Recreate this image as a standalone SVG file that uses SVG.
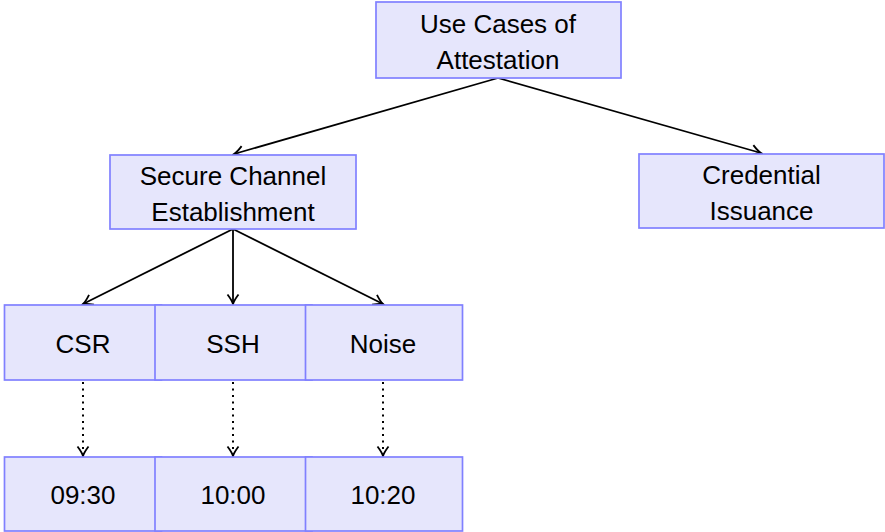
<svg xmlns="http://www.w3.org/2000/svg" width="885" height="532" viewBox="0 0 885 532">
<style>
.box{fill:#e6e6fc;stroke:#8080ff;stroke-width:1.7}
.t{font-family:"Liberation Sans",Arial,sans-serif;font-size:26px;fill:#000;text-anchor:middle}
.e{fill:none;stroke:#000;stroke-width:1.8}
.d{fill:none;stroke:#000;stroke-width:2;stroke-dasharray:2 4.5}
</style>
<defs>
<marker id="ah" viewBox="-12 -7 14 14" refX="0" refY="0" markerWidth="14" markerHeight="14" markerUnits="userSpaceOnUse" orient="auto">
<path d="M-9.5,-5.5 Q-3.5,-1 0,0 Q-3.5,1 -9.5,5.5" fill="none" stroke="#000" stroke-width="1.8"/>
</marker>
</defs>
<g id="connectors">
<path class="e" d="M498,78 L234,154" marker-end="url(#ah)"/>
<path class="e" d="M498,78 L761,153" marker-end="url(#ah)"/>
<path class="e" d="M233,229 L83,304" marker-end="url(#ah)"/>
<path class="e" d="M233,229 L233,304" marker-end="url(#ah)"/>
<path class="e" d="M233,229 L383,304" marker-end="url(#ah)"/>
<path class="d" d="M83,382 L83,456" marker-end="url(#ah)"/>
<path class="d" d="M233,382 L233,456" marker-end="url(#ah)"/>
<path class="d" d="M383,382 L383,456" marker-end="url(#ah)"/>
</g>
<g id="root"><rect class="box" x="376" y="2" width="245" height="76"/><text class="t" x="498" y="33">Use Cases of</text><text class="t" x="498" y="69">Attestation</text></g>
<g id="secure"><rect class="box" x="110" y="155" width="246" height="74"/><text class="t" x="233" y="185">Secure Channel</text><text class="t" x="233" y="221">Establishment</text></g>
<g id="credential"><rect class="box" x="639" y="154" width="245" height="74"/><text class="t" x="761.5" y="184">Credential</text><text class="t" x="761.5" y="220">Issuance</text></g>
<g id="csr"><rect class="box" x="4.5" y="305" width="157" height="75"/><text class="t" x="83" y="353">CSR</text></g>
<g id="ssh"><rect class="box" x="155" y="305" width="157" height="75"/><text class="t" x="233" y="353">SSH</text></g>
<g id="noise"><rect class="box" x="305.5" y="305" width="157" height="75"/><text class="t" x="383" y="353">Noise</text></g>
<g id="t0930"><rect class="box" x="4.5" y="457" width="157" height="74"/><text class="t" x="83" y="504">09:30</text></g>
<g id="t1000"><rect class="box" x="155" y="457" width="157" height="74"/><text class="t" x="233" y="504">10:00</text></g>
<g id="t1020"><rect class="box" x="305.5" y="457" width="157" height="74"/><text class="t" x="383" y="504">10:20</text></g>
</svg>
